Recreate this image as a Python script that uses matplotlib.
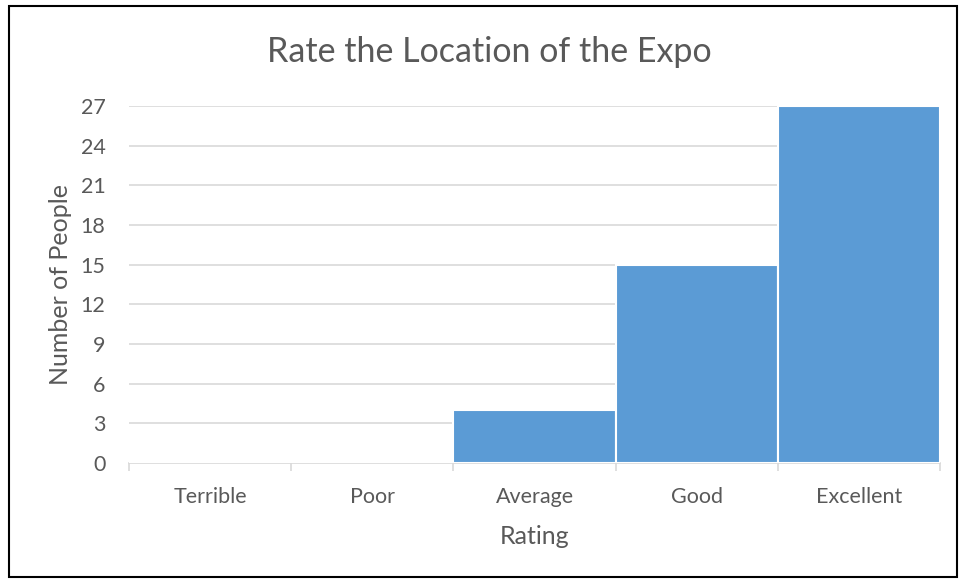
import matplotlib
matplotlib.use("Agg")
import matplotlib.pyplot as plt
from matplotlib.patches import Rectangle
import numpy as np

categories = ["Terrible", "Poor", "Average", "Good", "Excellent"]
counts = [0, 0, 4, 15, 27]
y_ticks = [0, 3, 6, 9, 12, 15, 18, 21, 24, 27]

TEXT = "#595959"
GRID = "#D9D9D9"
BAR = "#5B9BD5"

plt.rcParams["font.family"] = ["Lato", "DejaVu Sans"]

fig = plt.figure(figsize=(9.61, 5.8), dpi=100)
ax = fig.add_axes([129 / 961, 1 - 463 / 580, (940 - 129) / 961, (463 - 106) / 580])

x = np.arange(len(categories))
ax.bar(x, counts, width=1.0, color=BAR, edgecolor="white", linewidth=1.5, zorder=3)

ax.set_xlim(-0.5, len(categories) - 0.5)
ax.set_ylim(0, 27)
ax.set_yticks(y_ticks)
ax.grid(axis="y", color=GRID, lw=1.2, zorder=0)
ax.set_xticks(x)
ax.set_xticklabels(categories)
ax.set_xticks(np.arange(len(categories) + 1) - 0.5, minor=True)
ax.tick_params(axis="x", which="major", length=0, pad=17, labelsize=15.5, labelcolor=TEXT)
ax.tick_params(axis="x", which="minor", length=6, color=GRID, width=1.2)
ax.tick_params(axis="y", length=0, pad=17, labelsize=15.5, labelcolor=TEXT)
for side in ["top", "right", "left"]:
    ax.spines[side].set_visible(False)
ax.spines["bottom"].set_color(GRID)
ax.spines["bottom"].set_linewidth(1.2)

ax.set_xlabel("Rating", fontsize=18, color=TEXT, labelpad=13)
ax.set_ylabel("Number of People", fontsize=18, color=TEXT, labelpad=6)
fig.text(489 / 961, 1 - 52 / 580, "Rate the Location of the Expo", fontsize=24.5,
         color=TEXT, ha="center", va="center")

fig.patches.append(Rectangle((9 / 961, 3 / 580), 948 / 961, 571 / 580, transform=fig.transFigure,
                             fill=False, edgecolor="black", lw=1.5))

fig.savefig("out.png", dpi=100)
